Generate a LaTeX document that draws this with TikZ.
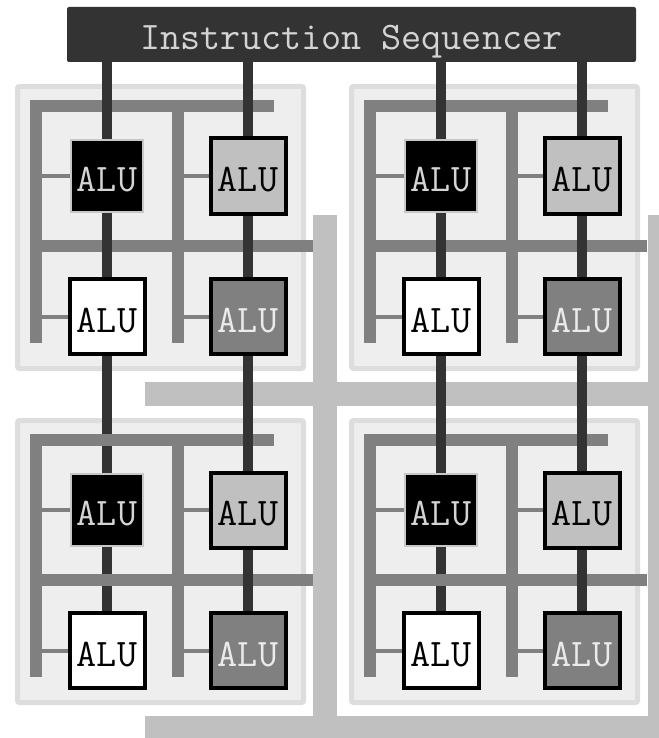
\documentclass[tikz,border=0pt]{standalone}
\usetikzlibrary{positioning}

\pgfdeclarelayer{back}
\pgfdeclarelayer{under}
\pgfdeclarelayer{bus}
\pgfdeclarelayer{wire}
\pgfsetlayers{back,under,bus,wire,main}

\definecolor{seqfill}{HTML}{333333}
\definecolor{seqtext}{HTML}{D4D4D4}
\definecolor{panelfill}{HTML}{EEEEEE}
\definecolor{paneledge}{HTML}{DDDDDD}
\definecolor{busgray}{HTML}{808080}
\definecolor{netgray}{HTML}{C0C0C0}
\definecolor{alulight}{HTML}{C0C0C0}
\definecolor{aludark}{HTML}{808080}

\tikzset{
  alufont/.style={font=\ttfamily\fontsize{39}{39}\selectfont,text height=31pt,text depth=0pt},
  alu/.style={alufont,draw=black,line width=4pt,minimum size=75pt,inner sep=0pt},
  aluoff/.style={alu,fill=black,draw=black!22,line width=2pt,minimum size=72pt,text=seqtext},
  seqbox/.style={alufont,fill=seqfill,text=seqtext,rounded corners=2pt,
    minimum width=569pt,minimum height=55pt,inner sep=0pt},
  panel/.style={fill=panelfill,draw=paneledge,line width=5pt,rounded corners=2pt},
  cellbus/.style={draw=busgray,line width=12pt},
  stub/.style={draw=busgray,line width=4pt},
  netbus/.style={draw=netgray,line width=24pt},
  wire/.style={draw=seqfill,line width=10pt}
}

\begin{document}
\begin{tikzpicture}[x=1pt,y=-1pt]
  \useasboundingbox (0,0) rectangle (658,738);

  % sequencer
  \node[seqbox] (seq) at (351.5,34.5) {Instruction Sequencer};

  % outer bus
  \begin{pgfonlayer}{back}
    \draw[netbus] (324.5,215) -- (324.5,750);
    \draw[netbus] (659.5,215) -- (659.5,750);
    \draw[netbus] (145,394) -- (670,394);
    \draw[netbus] (145,727.5) -- (670,727.5);
  \end{pgfonlayer}

  % processing blocks
  \foreach \bx/\by/\b in {0/0/tl,334/0/tr,0/334/bl,334/334/br}{
    \begin{scope}[shift={(\bx,\by)}]
      \node[aluoff] (\b11) at (107,176) {ALU};
      \node[alu,fill=alulight] (\b12) at (248,176) {ALU};
      \node[alu,fill=white] (\b21) at (107,316.5) {ALU};
      \node[alu,fill=aludark,text=white!92!black] (\b22) at (248,316.5) {ALU};
      \begin{pgfonlayer}{back}
        \draw[panel] (17.5,86.5) rectangle (303.5,368.5);
      \end{pgfonlayer}
      \begin{pgfonlayer}{bus}
        \draw[cellbus] (35.5,343) |- (274,106);
        \draw[cellbus] (178,100) -- (178,343);
        \draw[cellbus] (41,245.5) -- (313,245.5);
        \foreach \a in {11,12,21,22}
          \draw[stub] (\b\a.west) -- ++(-32,0);
      \end{pgfonlayer}
    \end{scope}
  }

  % instruction wires
  \begin{pgfonlayer}{wire}
    \foreach \t in {tl11,tl12,tr11,tr12}
      \draw[wire] (seq.south -| \t) -- (\t);
    \foreach \t/\u in {tl11/tl21,tl12/tl22,tr11/tr21,tr12/tr22,tl22/bl12,
        bl12/bl22,tr21/br11,tr22/br12,br12/br22}
      \draw[wire] (\t) -- (\u);
  \end{pgfonlayer}
  \begin{pgfonlayer}{under}
    \foreach \t/\u in {tl21/bl11,bl11/bl21,br11/br21}
      \draw[wire] (\t) -- (\u);
  \end{pgfonlayer}
\end{tikzpicture}
\end{document}
